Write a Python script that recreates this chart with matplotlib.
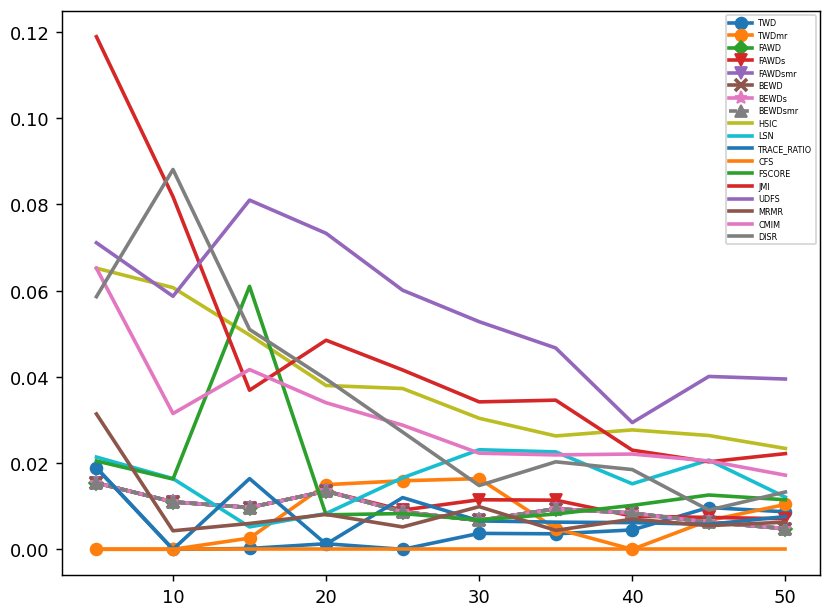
import matplotlib
matplotlib.use('Agg')
import matplotlib.pyplot as plt

# number of selected features
k = [5, 10, 15, 20, 25, 30, 35, 40, 45, 50]

# proposed methods (with markers)
twd      = [0.0189, 0.0, 0.0002, 0.0013, 0.0, 0.0037, 0.0036, 0.0045, 0.0097, 0.0087]
twdmr    = [0.0, 0.0, 0.0026, 0.0150, 0.0159, 0.0164, 0.0048, 0.0, 0.0067, 0.0104]
fawd     = [0.0154, 0.0110, 0.0097, 0.0135, 0.0087, 0.0067, 0.0094, 0.0084, 0.0063, 0.0048]
fawds    = [0.0154, 0.0110, 0.0097, 0.0135, 0.0091, 0.0115, 0.0114, 0.0077, 0.0074, 0.0071]
fawdsmr  = [0.0154, 0.0110, 0.0097, 0.0135, 0.0087, 0.0067, 0.0094, 0.0084, 0.0063, 0.0048]
bewd     = [0.0154, 0.0110, 0.0097, 0.0135, 0.0087, 0.0067, 0.0094, 0.0084, 0.0063, 0.0048]
bewds    = [0.0154, 0.0110, 0.0097, 0.0135, 0.0087, 0.0067, 0.0094, 0.0084, 0.0063, 0.0048]
bewdsmr  = [0.0154, 0.0110, 0.0097, 0.0135, 0.0087, 0.0067, 0.0094, 0.0084, 0.0063, 0.0048]

# baselines
hsic        = [0.0652, 0.0607, 0.0497, 0.0380, 0.0373, 0.0304, 0.0263, 0.0277, 0.0264, 0.0234]
lsn         = [0.0214, 0.0164, 0.0052, 0.0083, 0.0166, 0.0231, 0.0226, 0.0152, 0.0207, 0.0121]
trace_ratio = [0.0189, 0.0, 0.0164, 0.0012, 0.0120, 0.0066, 0.0063, 0.0062, 0.0058, 0.0076]
cfs         = [0.0, 0.0, 0.0, 0.0, 0.0, 0.0, 0.0, 0.0, 0.0, 0.0]
fscore      = [0.0205, 0.0163, 0.0610, 0.0080, 0.0083, 0.0068, 0.0082, 0.0102, 0.0126, 0.0115]
jmi         = [0.1189, 0.0818, 0.0369, 0.0485, 0.0416, 0.0342, 0.0346, 0.0230, 0.0203, 0.0222]
udfs        = [0.0711, 0.0587, 0.0810, 0.0733, 0.0601, 0.0528, 0.0467, 0.0294, 0.0401, 0.0395]
mrmr        = [0.0314, 0.0043, 0.0060, 0.0081, 0.0052, 0.0099, 0.0044, 0.0070, 0.0055, 0.0063]
cmim        = [0.0652, 0.0315, 0.0417, 0.0340, 0.0288, 0.0223, 0.0219, 0.0221, 0.0205, 0.0172]
disr        = [0.0586, 0.0881, 0.0510, 0.0395, 0.0272, 0.0148, 0.0203, 0.0185, 0.0091, 0.0133]

fig = plt.figure(figsize=(6.392, 4.738), dpi=130)
ax = fig.add_axes([0.0746, 0.065, 0.912, 0.9155])

lw = 2
ms = 6.5
ax.plot(k, twd, marker='o', lw=lw, ms=ms, label='TWD')
ax.plot(k, twdmr, marker='o', lw=lw, ms=ms, label='TWDmr')
ax.plot(k, fawd, marker='D', lw=lw, ms=ms - 1, label='FAWD')
ax.plot(k, fawds, marker='v', lw=lw, ms=ms, label='FAWDs')
ax.plot(k, fawdsmr, marker='v', lw=lw, ms=ms, label='FAWDsmr')
ax.plot(k, bewd, marker='x', lw=lw, ms=ms, mew=2, label='BEWD')
ax.plot(k, bewds, marker='*', lw=lw, ms=ms + 1, label='BEWDs')
ax.plot(k, bewdsmr, marker='^', lw=lw, ms=ms, ls=(0, (2.2, 1.1)), label='BEWDsmr')

ax.plot(k, hsic, lw=lw, label='HSIC')
ax.plot(k, lsn, lw=lw, label='LSN')
ax.plot(k, trace_ratio, lw=lw, label='TRACE_RATIO')
ax.plot(k, cfs, lw=lw, label='CFS')
ax.plot(k, fscore, lw=lw, label='FSCORE')
ax.plot(k, jmi, lw=lw, label='JMI')
ax.plot(k, udfs, lw=lw, label='UDFS')
ax.plot(k, mrmr, lw=lw, label='MRMR')
ax.plot(k, cmim, lw=lw, label='CMIM')
ax.plot(k, disr, lw=lw, label='DISR')

ax.legend(loc='upper right', fontsize=4.5, handlelength=2.8, labelspacing=0.44)

plt.savefig('out.png', dpi=130)
